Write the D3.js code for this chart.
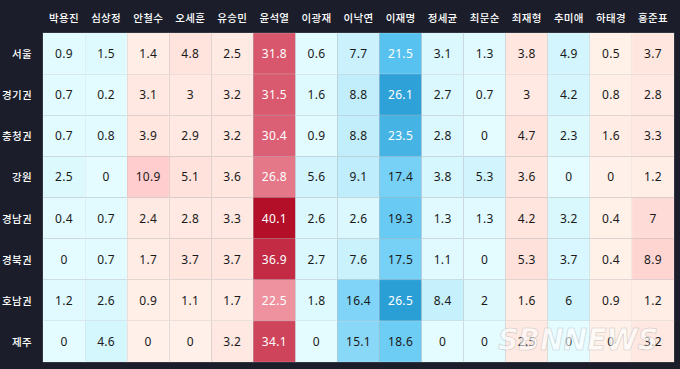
<!DOCTYPE html>
<html><head><meta charset="utf-8">
<script src="https://cdn.jsdelivr.net/npm/d3@7"></script>
<style>
html,body{margin:0;padding:0;background:#1b1e2a;}
svg{display:block;}
</style></head>
<body>
<svg id="chart" width="680" height="369"></svg>
<script>
const candidates = ["박용진","심상정","안철수","오세훈","유승민","윤석열","이광재","이낙연","이재명","정세균","최문순","최재형","추미애","하태경","홍준표"];
const camp = ["blue","blue","red","red","red","red","blue","blue","blue","blue","blue","red","blue","red","red"];
const regions = ["서울","경기권","충청권","강원","경남권","경북권","호남권","제주"];
const values = [
  [0.9,1.5,1.4,4.8,2.5,31.8,0.6,7.7,21.5,3.1,1.3,3.8,4.9,0.5,3.7],
  [0.7,0.2,3.1,3,3.2,31.5,1.6,8.8,26.1,2.7,0.7,3,4.2,0.8,2.8],
  [0.7,0.8,3.9,2.9,3.2,30.4,0.9,8.8,23.5,2.8,0,4.7,2.3,1.6,3.3],
  [2.5,0,10.9,5.1,3.6,26.8,5.6,9.1,17.4,3.8,5.3,3.6,0,0,1.2],
  [0.4,0.7,2.4,2.8,3.3,40.1,2.6,2.6,19.3,1.3,1.3,4.2,3.2,0.4,7],
  [0,0.7,1.7,3.7,3.7,36.9,2.7,7.6,17.5,1.1,0,5.3,3.7,0.4,8.9],
  [1.2,2.6,0.9,1.1,1.7,22.5,1.8,16.4,26.5,8.4,2,1.6,6,0.9,1.2],
  [0,4.6,0,0,3.2,34.1,0,15.1,18.6,0,0,2.5,0,0,3.2]
];

const svg = d3.select("#chart");
const W = 680, H = 369;
const margin = {left: 43, right: 6, top: 33, bottom: 7};

const x = d3.scaleBand().domain(candidates).range([margin.left, W - margin.right]).padding(0);
const y = d3.scaleBand().domain(regions).range([margin.top, H - margin.bottom]).padding(0);

const blue = d3.scaleLinear().domain([0, 8, 16, 21, 26.5])
  .range(["#e4fcff", "#c9f1fc", "#82d5f7", "#5cc6f2", "#2a9fd6"]).clamp(true);
const red = d3.scaleLinear().domain([0, 4, 11, 22, 32, 40.1])
  .range(["#fff1e9", "#ffe6df", "#ffcdcd", "#ef95a2", "#d8566c", "#b30f29"]).clamp(true);

const cells = [];
regions.forEach((r, i) => candidates.forEach((c, j) => cells.push({r, c, v: values[i][j], camp: camp[j]})));

const g = svg.append("g");
g.selectAll("rect.cell").data(cells).join("rect")
  .attr("class", "cell")
  .attr("x", d => x(d.c)).attr("y", d => y(d.r))
  .attr("width", x.bandwidth()).attr("height", y.bandwidth())
  .attr("fill", d => d.camp === "blue" ? blue(d.v) : red(d.v))
  .attr("stroke", "rgba(255,255,255,0.25)").attr("stroke-width", 0.8);

g.selectAll("text.val").data(cells).join("text")
  .attr("class", "val")
  .attr("x", d => x(d.c) + x.bandwidth() / 2)
  .attr("y", d => y(d.r) + y.bandwidth() / 2)
  .attr("text-anchor", "middle").attr("dominant-baseline", "central")
  .attr("font-family", "'Noto Sans','Noto Sans CJK KR',sans-serif")
  .attr("font-size", 12).attr("letter-spacing", 0.3)
  .attr("fill", d => d.v > 20 ? "#ffffff" : "#1a1a1a")
  .text(d => d.v);

// column headers
const xAxis = d3.axisTop(x).tickSize(0).tickPadding(0);
const gx = svg.append("g").attr("transform", `translate(0,${margin.top - 16})`).call(xAxis);
gx.select(".domain").remove();
gx.selectAll("text")
  .attr("fill", "#ffffff").attr("font-size", 10.5).attr("font-weight", 500)
  .attr("letter-spacing", 0.3)
  .attr("font-family", "'Noto Sans CJK KR',sans-serif")
  .attr("dominant-baseline", "central").attr("dy", null);

// row labels
const yAxis = d3.axisLeft(y).tickSize(0).tickPadding(0);
const gy = svg.append("g").attr("transform", `translate(${margin.left - 11},0)`).call(yAxis);
gy.select(".domain").remove();
gy.selectAll("text")
  .attr("fill", "#ffffff").attr("font-size", 10.5).attr("font-weight", 500)
  .attr("letter-spacing", 0.3)
  .attr("font-family", "'Noto Sans CJK KR',sans-serif")
  .attr("dominant-baseline", "central").attr("dy", null);

// watermark
svg.append("text")
  .attr("x", 578).attr("y", 339)
  .attr("text-anchor", "middle").attr("dominant-baseline", "central")
  .attr("font-family", "'DejaVu Sans',sans-serif").attr("font-weight", "bold")
  .attr("font-style", "italic").attr("font-size", 30)
  .attr("textLength", 160).attr("lengthAdjust", "spacingAndGlyphs")
  .attr("fill", "rgba(255,255,255,0.6)")
  .attr("stroke", "rgba(150,150,150,0.5)").attr("stroke-width", 0.6)
  .text("SBNNEWS");
</script>
</body></html>
